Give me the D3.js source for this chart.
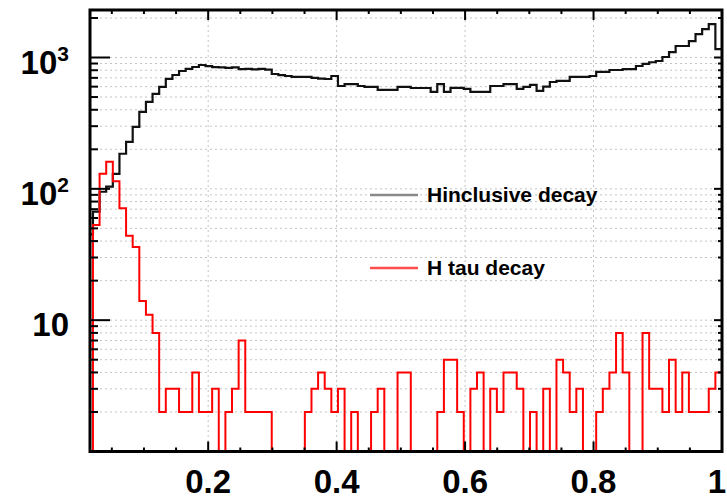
<!DOCTYPE html>
<html>
<head>
<meta charset="UTF-8">
<title>H decay histograms</title>
<script src="https://cdn.jsdelivr.net/npm/d3@7"></script>
<style>
  body { margin: 0; background: #fff; }
  svg text { font-family: "Liberation Sans", Arial, Helvetica, sans-serif; font-weight: bold; fill: #000; }
</style>
</head>
<body>
<svg id="chart" width="727" height="499"></svg>
<script>
// binning of both histograms: N_BINS equal bins on [0, 1]
const N_BINS = 97;
const X_MIN = 0.016, X_MAX = 1;
const Y_MIN = 1, Y_MAX = 2300;

// bin contents (0 = empty bin)
const inclusive = [
  30, 45, 67, 95, 104, 130, 185, 228, 296, 385,
  459, 528, 597, 687, 736, 789, 820, 847, 877, 860,
  845, 840, 835, 840, 815, 818, 812, 820, 810, 749,
  735, 723, 711, 711, 711, 700, 690, 686, 723, 607,
  628, 628, 607, 597, 597, 566, 566, 566, 597, 597,
  586, 586, 586, 547, 628, 547, 587, 587, 577, 547,
  547, 547, 607, 607, 628, 628, 577, 597, 618, 557,
  600, 651, 663, 663, 711, 711, 711, 723, 776, 776,
  803, 803, 815, 815, 862, 893, 920, 941, 1009, 1100,
  1223, 1223, 1335, 1509, 1647, 1798, 1160
];
const tauDecay = [
  0, 0, 53, 130, 161, 114, 71, 44, 36, 14,
  11, 8, 2, 3, 3, 2, 2, 4, 2, 2,
  3, 0, 2, 3, 7, 2, 2, 2, 2, 0,
  0, 0, 0, 0, 2, 3, 4, 3, 2, 3,
  0, 2, 0, 0, 2, 3, 0, 0, 4, 4,
  0, 0, 0, 0, 2, 5, 5, 2, 0, 3,
  4, 0, 3, 2, 4, 4, 3, 0, 2, 0,
  3, 0, 5, 4, 2, 3, 0, 0, 2, 3,
  4, 8, 4, 0, 0, 8, 3, 3, 2, 5,
  2, 4, 2, 2, 2, 3, 4
];

const xTickVals = [0.2, 0.4, 0.6, 0.8, 1];
const xTickLabels = ["0.2", "0.4", "0.6", "0.8", "1"];
const yTickVals = [10, 100, 1000];
const yTickExp = ["", "2", "3"];
const legendNames = ["Hinclusive decay", "H tau decay"];
const legendColors = ["#8a8a8a", "#ff4d4d"];
const seriesColors = ["#111111", "#ff0000"];

const frame = {left: 90, right: 722, top: 10, bottom: 451.5};

const svg = d3.select("#chart");

const x = d3.scaleLinear().domain([X_MIN, X_MAX]).range([frame.left, frame.right]);
const y = d3.scaleLog().domain([Y_MIN, Y_MAX]).range([frame.bottom, frame.top]);

svg.append("defs").append("clipPath").attr("id", "plot-clip")
  .append("rect")
  .attr("x", frame.left).attr("y", frame.top)
  .attr("width", frame.right - frame.left)
  .attr("height", frame.bottom - frame.top);

// all log ticks (1..9 x 10^n) inside the y range
const yAllTicks = [];
for (let e = 0; e < 4; e++) {
  for (let m = 1; m <= 9; m++) {
    const v = m * Math.pow(10, e);
    if (v > Y_MIN && v < Y_MAX) yAllTicks.push(v);
  }
}
const xMinor = d3.range(1, 20).map(i => i * 0.05).filter(v => v > X_MIN && Math.abs(v * 5 - Math.round(v * 5)) > 1e-6);

//---------grid---------
const grid = svg.append("g").attr("stroke", "#c4c4c4").attr("stroke-width", 1)
  .attr("stroke-dasharray", "2,3");
grid.selectAll(".hgrid").data(yAllTicks).enter().append("line")
  .attr("x1", frame.left).attr("x2", frame.right)
  .attr("y1", d => y(d)).attr("y2", d => y(d));
grid.selectAll(".vgrid").data(xTickVals.filter(v => v < 1)).enter().append("line")
  .attr("x1", d => x(d)).attr("x2", d => x(d))
  .attr("y1", frame.top).attr("y2", frame.bottom);

//---------histograms---------
const stepLine = d3.line()
  .x(d => x(d[0]))
  .y(d => y(Math.max(d[1], Y_MIN)))
  .curve(d3.curveStepAfter);

const toPoints = function(vals) {
  const pts = vals.map((v, i) => [i / N_BINS, v]);
  pts.push([1, vals[vals.length - 1]]);
  return pts;
};

const hists = svg.append("g").attr("clip-path", "url(#plot-clip)");
[inclusive, tauDecay].forEach((vals, i) => {
  hists.append("path")
    .attr("d", stepLine(toPoints(vals)))
    .attr("fill", "none")
    .attr("stroke", seriesColors[i])
    .attr("stroke-width", i == 0 ? 2.2 : 2);
});

//---------frame and ticks---------
const ticks = svg.append("g").attr("stroke", "#000").attr("stroke-width", 2);
// left
ticks.selectAll(".yl").data(yAllTicks).enter().append("line")
  .attr("x1", frame.left)
  .attr("x2", d => frame.left + (yTickVals.includes(d) ? 20 : 8))
  .attr("y1", d => y(d)).attr("y2", d => y(d));
// right
ticks.selectAll(".yr").data(yAllTicks).enter().append("line")
  .attr("x1", frame.right)
  .attr("x2", d => frame.right - (yTickVals.includes(d) ? 8 : 4))
  .attr("y1", d => y(d)).attr("y2", d => y(d));
// bottom and top
const xAll = xMinor.concat(xTickVals);
ticks.selectAll(".xb").data(xAll).enter().append("line")
  .attr("x1", d => x(d)).attr("x2", d => x(d))
  .attr("y1", frame.bottom)
  .attr("y2", d => frame.bottom - (xTickVals.includes(d) ? 10 : 4));
ticks.selectAll(".xt").data(xAll).enter().append("line")
  .attr("x1", d => x(d)).attr("x2", d => x(d))
  .attr("y1", frame.top)
  .attr("y2", d => frame.top + (xTickVals.includes(d) ? 10 : 4));

svg.append("rect")
  .attr("x", frame.left).attr("y", frame.top)
  .attr("width", frame.right - frame.left)
  .attr("height", frame.bottom - frame.top)
  .attr("fill", "none").attr("stroke", "#000").attr("stroke-width", 3);

//---------labels---------
// the last label ("1") sits at the right edge, so keep it inside the picture
svg.selectAll(".xlab").data(xTickVals).enter().append("text")
  .attr("x", d => d == 1 ? 726 : x(d))
  .attr("y", 493)
  .attr("text-anchor", d => d == 1 ? "end" : "middle")
  .style("font-size", "33px")
  .text((d, i) => xTickLabels[i]);

const ylab = svg.selectAll(".ylab").data(yTickVals).enter().append("text")
  .attr("x", 69)
  .attr("y", d => y(d) + 16)
  .attr("text-anchor", "end")
  .style("font-size", "33px");
ylab.append("tspan").text("10");
ylab.append("tspan")
  .attr("dy", -13)
  .style("font-size", "21px")
  .text((d, i) => yTickExp[i]);

//---------legend---------
const legend = svg.append("g");
legendNames.forEach((name, i) => {
  const ly = 195 + i * 73;
  legend.append("line")
    .attr("x1", 370).attr("x2", 418)
    .attr("y1", ly).attr("y2", ly)
    .attr("stroke", legendColors[i]).attr("stroke-width", 2.5);
  legend.append("text")
    .attr("x", 427).attr("y", ly + 7)
    .style("font-size", "21px")
    .text(name);
});
</script>
</body>
</html>
